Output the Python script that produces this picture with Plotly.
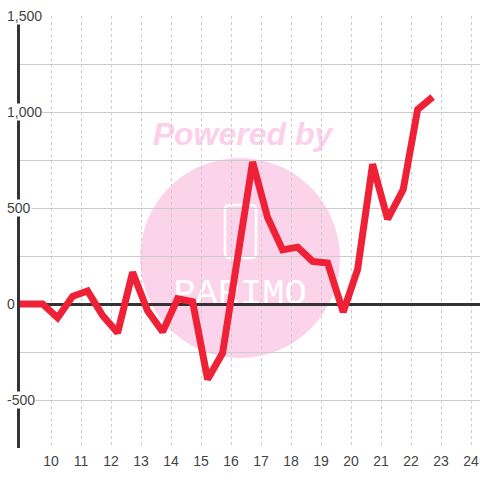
import plotly.graph_objects as go

# ---- data ----
x_vals = [8.72, 9.22, 9.72, 10.22, 10.72, 11.22, 11.72, 12.22, 12.72, 13.22, 13.72,
          14.22, 14.72, 15.22, 15.72, 16.72, 17.22, 17.72, 18.22, 18.72, 19.22,
          19.74, 20.22, 20.72, 21.22, 21.74, 22.22, 22.72]
y_vals = [0, 0, 0, -72, 40, 68, -60, -150, 165, -35, -145,
          28, 12, -392, -255, 740, 450, 282, 296, 222, 214,
          -42, 180, 728, 442, 596, 1012, 1078]
x_ticks = list(range(10, 25))
y_label_vals = [-500, 0, 500, 1000, 1500]
y_label_text = ["-500", "0", "500", "1,000", "1,500"]

W, H = 480, 480
ML, MR, MT, MB = 20, 0, 16, 32
PW, PH = W - ML - MR, H - MT - MB


def px(xp):
    return (xp - ML) / PW


def py(yp):
    return (H - MB - yp) / PH


fig = go.Figure()
fig.add_trace(go.Scatter(
    x=x_vals, y=y_vals, mode="lines",
    line=dict(color="#EE2137", width=7),
    hoverinfo="skip", showlegend=False,
))

shapes = []
# watermark circle
shapes.append(dict(type="circle", xref="paper", yref="paper",
                   x0=px(140), x1=px(340), y0=py(358), y1=py(158),
                   fillcolor="#FBD4EB", line=dict(width=0), layer="below"))
# logo rounded rectangle
x0, x1, y0, y1 = px(225), px(256), py(258), py(205)
rx, ry = 5 / PW, 5 / PH
path = (f"M {x0+rx},{y1} L {x1-rx},{y1} Q {x1},{y1} {x1},{y1-ry} "
        f"L {x1},{y0+ry} Q {x1},{y0} {x1-rx},{y0} L {x0+rx},{y0} "
        f"Q {x0},{y0} {x0},{y0+ry} L {x0},{y1-ry} Q {x0},{y1} {x0+rx},{y1} Z")
shapes.append(dict(type="path", xref="paper", yref="paper", path=path,
                   line=dict(color="white", width=2.5), layer="below"))
# logo text
shapes.append(dict(type="rect", xref="paper", yref="paper",
                   x0=px(160), x1=px(320), y0=py(308), y1=py(268),
                   line=dict(width=0), fillcolor="rgba(0,0,0,0)", layer="below",
                   label=dict(text="PARIMO", textposition="middle center",
                              font=dict(family="Liberation Mono", size=37, color="white"))))
# powered by
shapes.append(dict(type="rect", xref="paper", yref="paper",
                   x0=px(140), x1=px(345), y0=py(149), y1=py(113),
                   line=dict(width=0), fillcolor="rgba(0,0,0,0)", layer="below",
                   label=dict(text="<b><i>Powered by</i></b>", textposition="middle center",
                              font=dict(family="Liberation Sans", size=32, color="#FCD0EA"))))

annotations = []
for v, t in zip(y_label_vals, y_label_text):
    annotations.append(dict(xref="paper", yref="y", x=px(6), y=v, text=t,
                            xanchor="left", yanchor="middle", showarrow=False,
                            bgcolor="white", borderpad=0,
                            font=dict(family="Liberation Sans", size=14, color="#444")))

fig.update_layout(
    width=W, height=H,
    margin=dict(l=ML, r=MR, t=MT, b=MB, pad=0),
    paper_bgcolor="white", plot_bgcolor="white",
    shapes=shapes, annotations=annotations,
    xaxis=dict(range=[10 - 31 / 30, 24.3], tickvals=x_ticks, showgrid=True,
               gridcolor="#CCCCCC", gridwidth=1, griddash="dot", zeroline=False,
               showline=False, ticks="", ticklabelstandoff=3,
               tickfont=dict(family="Liberation Sans", size=14, color="#444"),
               fixedrange=True),
    yaxis=dict(range=[-750, 1500], dtick=250, tick0=0, showticklabels=False, showgrid=True,
               gridcolor="#CCCCCC", gridwidth=1, zeroline=True, zerolinecolor="#333333",
               zerolinewidth=3, showline=True, linecolor="#333333", linewidth=3, ticks="",
               fixedrange=True),
)

fig.write_html("out.html", config={"displayModeBar": False},
               post_script="document.body.style.margin='0';")
